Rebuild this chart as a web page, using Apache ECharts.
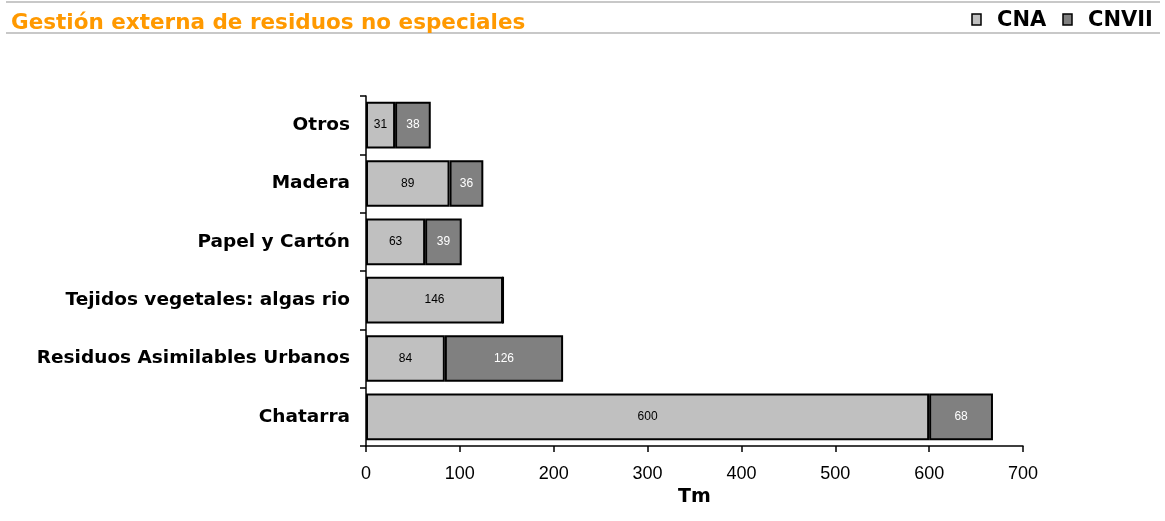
<!DOCTYPE html>
<html>
<head>
<meta charset="utf-8">
<script src="https://cdn.jsdelivr.net/npm/echarts@6/dist/echarts.min.js"></script>
<style>
  html, body { margin: 0; padding: 0; background: #fff; }
  #chart { width: 1165px; height: 521px; }
</style>
</head>
<body>
<div id="chart"></div>
<script>
// Categories listed bottom to top (category axis grows upward)
const categories = ['Chatarra', 'Residuos Asimilables Urbanos', 'Tejidos vegetales: algas rio', 'Papel y Cartón', 'Madera', 'Otros'];
const seriesNames = ['CNA', 'CNVII'];
const cnaValues = [600, 84, 146, 63, 89, 31];
const cnviiValues = [68, 126, 0, 39, 36, 38];
const xTicks = [0, 100, 200, 300, 400, 500, 600, 700];

const colors = ['#C0C0C0', '#808080'];
const plain = '"Liberation Sans", Arial, sans-serif';
const bold = '"DejaVu Sans", Verdana, sans-serif';

const chart = echarts.init(document.getElementById('chart'));

function labelFor(color) {
  return {
    show: true,
    position: 'inside',
    color: color,
    fontFamily: plain,
    fontSize: 12,
    formatter: p => (p.value ? String(p.value) : '')
  };
}

// Legend keys drawn as boxed swatches followed by the series name
const legendX = [972, 1063];
const legendGraphics = [];
seriesNames.forEach((name, i) => {
  legendGraphics.push({
    type: 'rect', shape: { x: legendX[i], y: 14, width: 9, height: 11 },
    style: { fill: colors[i], stroke: '#000', lineWidth: 1.5 }
  });
  legendGraphics.push({
    type: 'text', x: legendX[i] + 25, y: 21,
    style: { text: name, fill: '#000', font: 'bold 21px ' + bold, verticalAlign: 'middle', textVerticalAlign: 'middle' }
  });
});

chart.setOption({
  animation: false,
  title: {
    text: 'Gestión externa de residuos no especiales',
    left: 6, top: 7,
    textStyle: { color: '#FF9900', fontSize: 21.5, fontWeight: 'bold', fontFamily: bold }
  },
  graphic: [
    { type: 'line', shape: { x1: 6, y1: 2, x2: 1160, y2: 2 }, style: { stroke: '#c8c8c8', lineWidth: 2 } },
    { type: 'line', shape: { x1: 6, y1: 33, x2: 1160, y2: 33 }, style: { stroke: '#c8c8c8', lineWidth: 2 } }
  ].concat(legendGraphics),
  grid: { left: 366, right: 142, top: 96, bottom: 75, containLabel: false },
  xAxis: {
    type: 'value',
    min: xTicks[0], max: xTicks[xTicks.length - 1], interval: 100,
    name: 'Tm', nameLocation: 'middle', nameGap: 40,
    nameTextStyle: { fontSize: 19, fontWeight: 'bold', color: '#000', fontFamily: bold },
    axisLine: { show: true, lineStyle: { color: '#000', width: 1.5 } },
    axisTick: { show: true, length: 6, lineStyle: { color: '#000', width: 1.5 } },
    axisLabel: { color: '#000', fontSize: 18, margin: 19, fontFamily: plain },
    splitLine: { show: false }
  },
  yAxis: {
    type: 'category',
    data: categories,
    axisLine: { show: true, lineStyle: { color: '#000', width: 1.5 } },
    axisTick: { show: true, length: 6, lineStyle: { color: '#000', width: 1.5 } },
    axisLabel: { color: '#000', fontSize: 18.5, fontWeight: 'bold', margin: 16, fontFamily: bold }
  },
  series: [
    {
      name: seriesNames[0], type: 'bar', stack: 'total',
      data: cnaValues,
      barCategoryGap: '20%',
      itemStyle: { color: colors[0], borderColor: '#000', borderWidth: 2 },
      label: labelFor('#000')
    },
    {
      name: seriesNames[1], type: 'bar', stack: 'total',
      data: cnviiValues,
      barCategoryGap: '20%',
      itemStyle: { color: colors[1], borderColor: '#000', borderWidth: 2 },
      label: labelFor('#fff')
    }
  ]
});
</script>
</body>
</html>
